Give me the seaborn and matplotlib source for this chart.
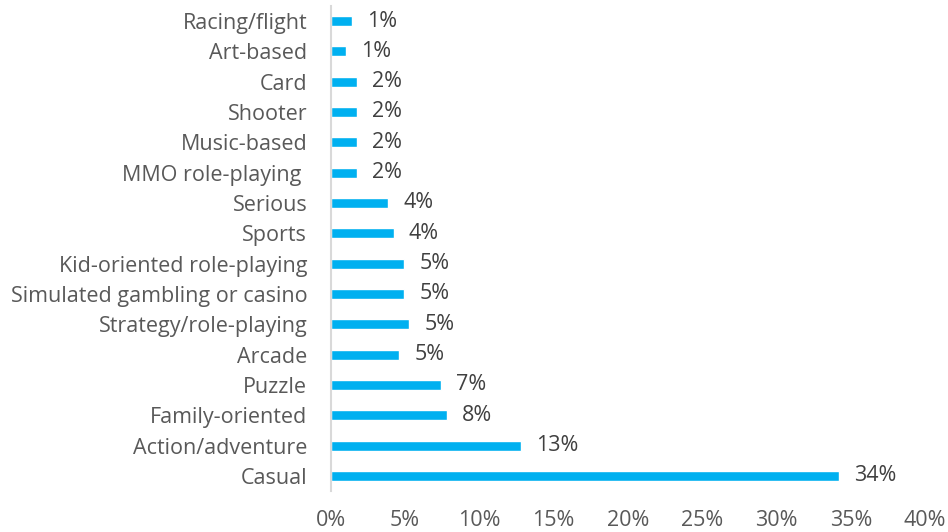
import pandas as pd
import matplotlib.pyplot as plt
import seaborn as sns
from matplotlib.ticker import PercentFormatter

# data (top to bottom)
genres = ['Racing/flight', 'Art-based', 'Card', 'Shooter', 'Music-based',
          'MMO role-playing ', 'Serious', 'Sports', 'Kid-oriented role-playing',
          'Simulated gambling or casino', 'Strategy/role-playing', 'Arcade',
          'Puzzle', 'Family-oriented', 'Action/adventure', 'Casual']
share = [1.4, 1.0, 1.73, 1.73, 1.73, 1.73, 3.86, 4.22, 4.94, 4.94, 5.28, 4.58,
         7.39, 7.81, 12.79, 34.2]
shown = [1, 1, 2, 2, 2, 2, 4, 4, 5, 5, 5, 5, 7, 8, 13, 34]
ticks = [0, 5, 10, 15, 20, 25, 30, 35, 40]

df = pd.DataFrame({'genre': genres, 'share': share})

sns.set_style('white')
plt.rcParams['font.family'] = ['Open Sans', 'DejaVu Sans']

fig = plt.figure(figsize=(9.48, 5.32), dpi=100)
ax = fig.add_axes([0.349, 0.077, 0.6268, 0.912])

sns.barplot(data=df, x='share', y='genre', color='#00B0F0', saturation=1,
            width=0.33, orient='h', ax=ax)

ax.bar_label(ax.containers[0], labels=[f'{v}%' for v in shown], padding=11,
             fontsize=15.5, color='#404040')

ax.set_xlim(0, 40)
ax.set_xticks(ticks)
ax.xaxis.set_major_formatter(PercentFormatter(decimals=0))
ax.set_xlabel('')
ax.set_ylabel('')
ax.tick_params(axis='x', length=0, pad=14, labelsize=15.5, labelcolor='#595959')
ax.tick_params(axis='y', length=0, pad=17, labelsize=15.5, labelcolor='#595959')

for s in ['top', 'right', 'bottom']:
    ax.spines[s].set_visible(False)
ax.spines['left'].set_color('#D9D9D9')
ax.spines['left'].set_linewidth(1.5)

plt.savefig('out.png', dpi=100)
